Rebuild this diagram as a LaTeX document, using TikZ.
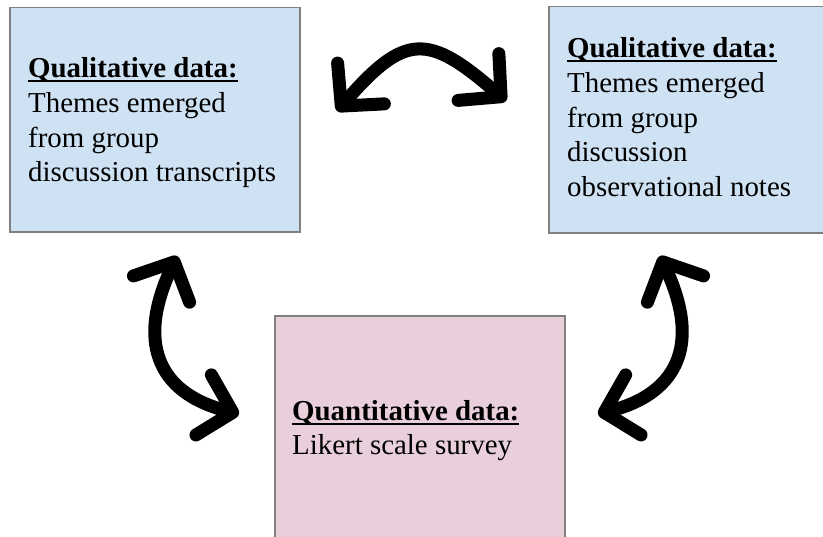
\documentclass[tikz,border=0pt]{standalone}
\usepackage{fontspec}
\setmainfont{Liberation Serif}
\usetikzlibrary{arrows.meta}
\definecolor{qualblue}{HTML}{CFE2F3}
\definecolor{quantpink}{HTML}{E8CFDB}
\definecolor{boxgray}{HTML}{808080}
\newcommand\headtxt[1]{\setbox0\hbox{\bfseries #1}\rlap{\rule[-4.5bp]{\wd0}{2bp}}\box0}
\tikzset{
  databox/.style={draw=boxgray, line width=1.5bp, rectangle, inner sep=0pt, anchor=north west},
  bluebox/.style={databox, fill=qualblue},
  pinkbox/.style={databox, fill=quantpink},
  boxtext/.style={inner sep=0pt, anchor=base west, font=\fontsize{29}{34.7}\selectfont},
  bigarrow/.style={line width=13bp, line cap=round, {Straight Barb[round, length=30bp, width=62bp]}-{Straight Barb[round, length=30bp, width=62bp]}}
}
\begin{document}
\begin{tikzpicture}[x=1bp, y=-1bp]
\useasboundingbox (0,0) rectangle (823,537);
\clip (0,0) rectangle (823,537);
\fill[white] (0,0) rectangle (823,537);
% boxes
\node[bluebox, minimum width=290bp, minimum height=224bp] (qualA) at (9,7) {};
\node[bluebox, minimum width=290bp, minimum height=226bp] (qualB) at (548,6) {};
\node[pinkbox, minimum width=290bp, minimum height=250bp] (quant) at (274,315) {};
% texts
\node[boxtext] (textA) at (28,78) {\vtop{\hbox{\headtxt{Qualitative data:}}\hbox{Themes emerged}\hbox{from group}\hbox{discussion transcripts}}};
\node[boxtext] (textB) at (567,58) {\vtop{\hbox{\headtxt{Qualitative data:}}\hbox{Themes emerged}\hbox{from group}\hbox{discussion}\hbox{observational notes}}};
\node[boxtext] (textC) at (292,420) {\vtop{\hbox{\headtxt{Quantitative data:}}\hbox{Likert scale survey}}};
% arrow ends
\coordinate (topL) at (337,111);
\coordinate (topR) at (506,101);
\coordinate (leftU) at (177,256);
\coordinate (leftD) at (239,414);
\coordinate (rightU) at (660,256);
\coordinate (rightD) at (598,414);
% arrows
\draw[bigarrow] (topL) .. controls (405,33) and (428,33) .. (topR);
\draw[bigarrow] (leftU) .. controls (133,350) and (165,395) .. (leftD);
\draw[bigarrow] (rightU) .. controls (704,350) and (672,395) .. (rightD);
\end{tikzpicture}
\end{document}
